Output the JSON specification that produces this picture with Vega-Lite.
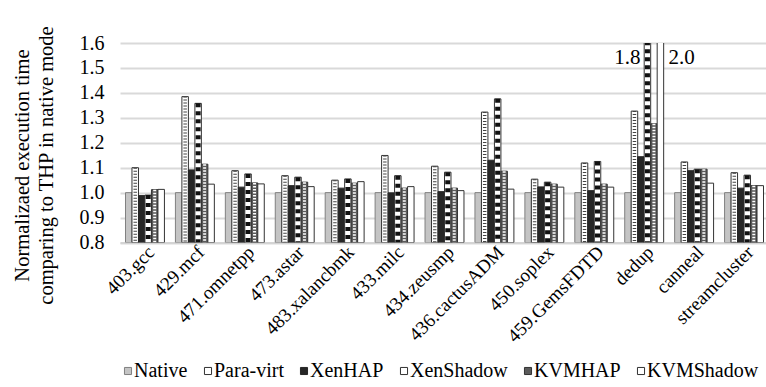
{
  "$schema": "https://vega.github.io/schema/vega-lite/v6.json",
  "autosize": {"type": "none"},
  "padding": {"left": 120, "top": 43, "right": 0, "bottom": 145},
  "width": 649,
  "height": 199.5,
  "config": {
    "font": "Liberation Serif",
    "view": {"stroke": null},
    "axis": {"labelFont": "Liberation Serif", "titleFont": "Liberation Serif", "labelColor": "#000", "titleColor": "#000"},
    "axisY": {"tickCount": 8, "labelOverlap": false, "labelFontSize": 20, "labelPadding": 16, "ticks": false, "domain": false, "gridColor": "#d9d9d9", "gridWidth": 2, "format": ".1f"},
    "legend": {"labelFont": "Liberation Serif", "labelColor": "#000"},
    "text": {"font": "Liberation Serif"}
  },
  "data": {
    "values": [
      {"bench": "403.gcc", "series": "Native", "value": 1.0},
      {"bench": "403.gcc", "series": "Para-virt", "value": 1.1},
      {"bench": "403.gcc", "series": "XenHAP", "value": 0.988},
      {"bench": "403.gcc", "series": "XenShadow", "value": 0.99},
      {"bench": "403.gcc", "series": "KVMHAP", "value": 1.012},
      {"bench": "403.gcc", "series": "KVMShadow", "value": 1.013},
      {"bench": "429.mcf", "series": "Native", "value": 1.0},
      {"bench": "429.mcf", "series": "Para-virt", "value": 1.385},
      {"bench": "429.mcf", "series": "XenHAP", "value": 1.091},
      {"bench": "429.mcf", "series": "XenShadow", "value": 1.358},
      {"bench": "429.mcf", "series": "KVMHAP", "value": 1.114},
      {"bench": "429.mcf", "series": "KVMShadow", "value": 1.034},
      {"bench": "471.omnetpp", "series": "Native", "value": 1.0},
      {"bench": "471.omnetpp", "series": "Para-virt", "value": 1.088},
      {"bench": "471.omnetpp", "series": "XenHAP", "value": 1.022},
      {"bench": "471.omnetpp", "series": "XenShadow", "value": 1.075},
      {"bench": "471.omnetpp", "series": "KVMHAP", "value": 1.039},
      {"bench": "471.omnetpp", "series": "KVMShadow", "value": 1.035},
      {"bench": "473.astar", "series": "Native", "value": 1.0},
      {"bench": "473.astar", "series": "Para-virt", "value": 1.068},
      {"bench": "473.astar", "series": "XenHAP", "value": 1.028},
      {"bench": "473.astar", "series": "XenShadow", "value": 1.062},
      {"bench": "473.astar", "series": "KVMHAP", "value": 1.042},
      {"bench": "473.astar", "series": "KVMShadow", "value": 1.024},
      {"bench": "483.xalancbmk", "series": "Native", "value": 1.0},
      {"bench": "483.xalancbmk", "series": "Para-virt", "value": 1.05},
      {"bench": "483.xalancbmk", "series": "XenHAP", "value": 1.018},
      {"bench": "483.xalancbmk", "series": "XenShadow", "value": 1.055},
      {"bench": "483.xalancbmk", "series": "KVMHAP", "value": 1.038},
      {"bench": "483.xalancbmk", "series": "KVMShadow", "value": 1.044},
      {"bench": "433.milc", "series": "Native", "value": 1.0},
      {"bench": "433.milc", "series": "Para-virt", "value": 1.149},
      {"bench": "433.milc", "series": "XenHAP", "value": 0.999},
      {"bench": "433.milc", "series": "XenShadow", "value": 1.068},
      {"bench": "433.milc", "series": "KVMHAP", "value": 1.018},
      {"bench": "433.milc", "series": "KVMShadow", "value": 1.024},
      {"bench": "434.zeusmp", "series": "Native", "value": 1.0},
      {"bench": "434.zeusmp", "series": "Para-virt", "value": 1.106},
      {"bench": "434.zeusmp", "series": "XenHAP", "value": 1.004},
      {"bench": "434.zeusmp", "series": "XenShadow", "value": 1.082},
      {"bench": "434.zeusmp", "series": "KVMHAP", "value": 1.018},
      {"bench": "434.zeusmp", "series": "KVMShadow", "value": 1.008},
      {"bench": "436.cactusADM", "series": "Native", "value": 1.0},
      {"bench": "436.cactusADM", "series": "Para-virt", "value": 1.323},
      {"bench": "436.cactusADM", "series": "XenHAP", "value": 1.13},
      {"bench": "436.cactusADM", "series": "XenShadow", "value": 1.376},
      {"bench": "436.cactusADM", "series": "KVMHAP", "value": 1.086},
      {"bench": "436.cactusADM", "series": "KVMShadow", "value": 1.014},
      {"bench": "450.soplex", "series": "Native", "value": 1.0},
      {"bench": "450.soplex", "series": "Para-virt", "value": 1.054},
      {"bench": "450.soplex", "series": "XenHAP", "value": 1.023},
      {"bench": "450.soplex", "series": "XenShadow", "value": 1.042},
      {"bench": "450.soplex", "series": "KVMHAP", "value": 1.034},
      {"bench": "450.soplex", "series": "KVMShadow", "value": 1.022},
      {"bench": "459.GemsFDTD", "series": "Native", "value": 1.0},
      {"bench": "459.GemsFDTD", "series": "Para-virt", "value": 1.119},
      {"bench": "459.GemsFDTD", "series": "XenHAP", "value": 1.008},
      {"bench": "459.GemsFDTD", "series": "XenShadow", "value": 1.125},
      {"bench": "459.GemsFDTD", "series": "KVMHAP", "value": 1.034},
      {"bench": "459.GemsFDTD", "series": "KVMShadow", "value": 1.022},
      {"bench": "dedup", "series": "Native", "value": 1.0},
      {"bench": "dedup", "series": "Para-virt", "value": 1.327},
      {"bench": "dedup", "series": "XenHAP", "value": 1.144},
      {"bench": "dedup", "series": "XenShadow", "value": 1.8},
      {"bench": "dedup", "series": "KVMHAP", "value": 1.276},
      {"bench": "dedup", "series": "KVMShadow", "value": 2.0},
      {"bench": "canneal", "series": "Native", "value": 1.0},
      {"bench": "canneal", "series": "Para-virt", "value": 1.123},
      {"bench": "canneal", "series": "XenHAP", "value": 1.088},
      {"bench": "canneal", "series": "XenShadow", "value": 1.094},
      {"bench": "canneal", "series": "KVMHAP", "value": 1.094},
      {"bench": "canneal", "series": "KVMShadow", "value": 1.038},
      {"bench": "streamcluster", "series": "Native", "value": 1.0},
      {"bench": "streamcluster", "series": "Para-virt", "value": 1.08},
      {"bench": "streamcluster", "series": "XenHAP", "value": 1.018},
      {"bench": "streamcluster", "series": "XenShadow", "value": 1.07},
      {"bench": "streamcluster", "series": "KVMHAP", "value": 1.028},
      {"bench": "streamcluster", "series": "KVMShadow", "value": 1.028}
    ]
  },
  "encoding": {
    "x": {
      "field": "bench",
      "type": "nominal",
      "sort": null,
      "scale": {"paddingInner": 0.22, "paddingOuter": 0.11},
      "axis": {
        "title": null,
        "labelAngle": -45,
        "labelFont": "Liberation Serif",
        "labelFontSize": 19,
        "labelPadding": 0,
        "domainColor": "#d4d4d4",
        "domainWidth": 2,
        "ticks": false
      }
    },
    "xOffset": {
      "field": "series",
      "type": "nominal",
      "scale": {"domain": ["Native", "Para-virt", "XenHAP", "XenShadow", "KVMHAP", "KVMShadow"], "paddingInner": 0, "paddingOuter": 0}
    }
  },
  "layer": [
    {
      "encoding": {
        "y": {
          "field": "value",
          "type": "quantitative",
          "scale": {"domain": [0.8, 1.6], "nice": false, "zero": false},
          "axis": {
            "title": ["Normalizaed execution time", "comparing to  THP in native mode"],
            "titleFont": "Liberation Serif",
            "labelFont": "Liberation Serif",
            "titleFontSize": 20.5,
            "titleFontWeight": "normal",
            "titleAngle": -90,
            "titleAlign": "center",
            "titleBaseline": "top",
            "titleX": -108,
            "titleY": 122,
            "titleLineHeight": 24.5
          }
        },
        "y2": {"datum": 0.8}
      },
      "layer": [
        {
          "mark": {"type": "bar", "clip": true, "strokeWidth": 1},
          "encoding": {
            "fill": {
              "field": "series",
              "type": "nominal",
              "scale": {
                "domain": ["Native", "Para-virt", "XenHAP", "XenShadow", "KVMHAP", "KVMShadow"],
                "range": ["#c4c4c4", "#ffffff", "#262626", "#ffffff", "#5a5a5a", "#ffffff"]
              },
              "legend": {
                "title": null,
                "orient": "none",
                "direction": "horizontal",
                "legendX": -2,
                "legendY": 318,
                "labelFont": "Liberation Serif",
                "labelFontSize": 20,
                "labelFontWeight": "normal",
                "symbolType": "square",
                "symbolSize": 50,
                "symbolStrokeColor": "#222",
                "symbolStrokeWidth": 1,
                "labelOffset": -4,
                "columnPadding": 10
              }
            },
            "stroke": {
              "field": "series",
              "type": "nominal",
              "scale": {
                "domain": ["Native", "Para-virt", "XenHAP", "XenShadow", "KVMHAP", "KVMShadow"],
                "range": ["#808080", "#333333", "#262626", "#333333", "#333333", "#333333"]
              },
              "legend": null
            }
          }
        },
        {
          "transform": [{"filter": "datum.series === 'Para-virt'"}],
          "mark": {"type": "rule", "clip": true, "color": "#444", "strokeWidth": 3.5, "strokeDash": [1, 2]}
        },
        {
          "transform": [{"filter": "datum.series === 'XenShadow'"}],
          "mark": {"type": "rule", "clip": true, "color": "#111", "strokeWidth": 5, "strokeDash": [4, 4]}
        },
        {
          "transform": [{"filter": "datum.series === 'KVMHAP'"}],
          "mark": {"type": "rule", "clip": true, "color": "#ffffff", "strokeWidth": 3, "strokeDash": [1.5, 1.5]}
        }
      ]
    },
    {
      "transform": [{"filter": "datum.series === 'XenShadow' && datum.value > 1.6"}],
      "mark": {"type": "text", "align": "right", "baseline": "top", "dx": -7, "dy": 4, "font": "Liberation Serif", "fontSize": 21, "color": "#000"},
      "encoding": {
        "y": {"datum": 1.6},
        "text": {"field": "value", "type": "quantitative", "format": ".1f"}
      }
    },
    {
      "transform": [{"filter": "datum.series === 'KVMShadow' && datum.value > 1.6"}],
      "mark": {"type": "text", "align": "left", "baseline": "top", "dx": 8, "dy": 4, "font": "Liberation Serif", "fontSize": 21, "color": "#000"},
      "encoding": {
        "y": {"datum": 1.6},
        "text": {"field": "value", "type": "quantitative", "format": ".1f"}
      }
    }
  ]
}
